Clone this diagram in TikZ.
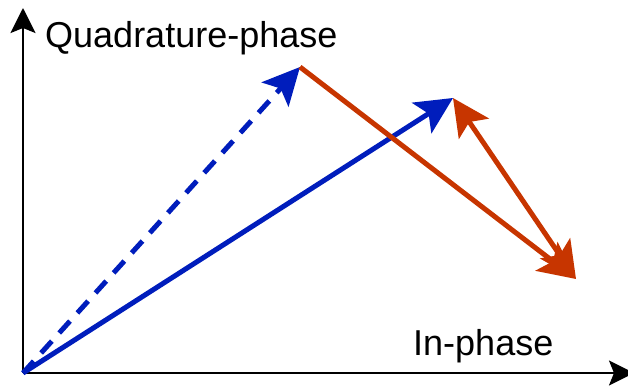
\documentclass[tikz,border=0pt]{standalone}
\usepackage{fontspec}
\setmainfont{Liberation Sans}
\usetikzlibrary{arrows.meta}
\definecolor{phblue}{HTML}{001DBC}
\definecolor{phred}{HTML}{C73500}

\begin{document}
\begin{tikzpicture}[x=1pt,y=1pt,>=Stealth,font=\fontsize{36}{40}\selectfont]
\tikzstyle{ax}=[line width=2.5pt,-{Stealth[length=25pt,width=25pt,inset=5pt]}]
\tikzstyle{vec}=[line width=5pt,-{Stealth[length=37pt,width=36pt,inset=8pt]}]
\useasboundingbox (0,0) rectangle (628,388);
\coordinate (O) at (23,15); \coordinate (ytip) at (23,380); \coordinate (xtip) at (634,15);
\coordinate (A) at (300,321); \coordinate (B) at (453,290); \coordinate (C) at (576,109);
% axes
\draw[ax] (O) -- (ytip);
\draw[ax] (O) -- (xtip);
\node[anchor=base west,inner sep=0] (qlab) at (45,340) {Quadrature-phase};
\node[anchor=base west,inner sep=0] (ilab) at (413,33) {In-phase};
% phasors
\draw[vec,phblue,dash pattern=on 16pt off 11pt] (O) -- (A);
\draw[vec,phblue] (O) -- (B);
\draw[vec,phred] (A) -- (C);
\draw[vec,phred,{Stealth[length=37pt,width=36pt,inset=8pt]}-{Stealth[length=37pt,width=36pt,inset=8pt]}] (B) -- (C);
\end{tikzpicture}
\end{document}
